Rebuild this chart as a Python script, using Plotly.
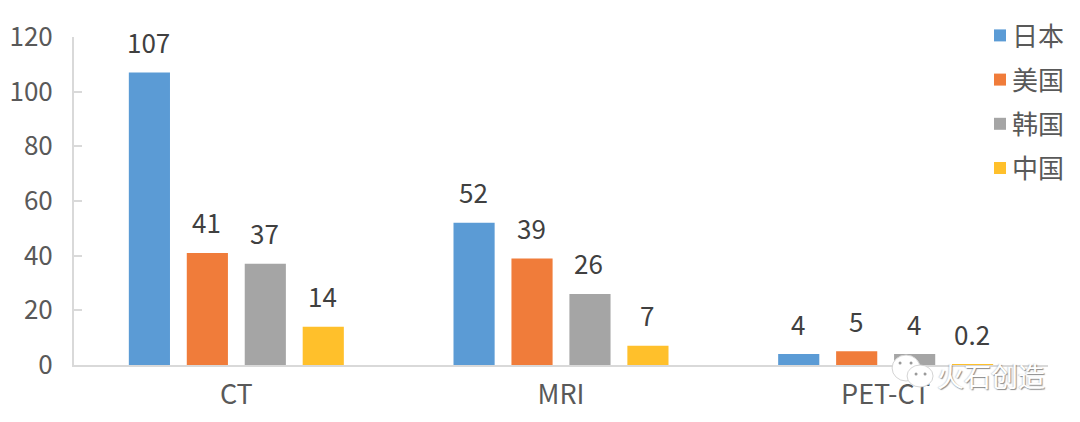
import plotly.graph_objects as go

categories = ["CT", "MRI", "PET-CT"]
series_names = ["日本", "美国", "韩国", "中国"]
japan = [107, 52, 4]
usa = [41, 39, 5]
korea = [37, 26, 4]
china = [14, 7, 0.2]
all_values = [japan, usa, korea, china]
label_text = [["107", "52", "4"], ["41", "39", "5"], ["37", "26", "4"], ["14", "7", "0.2"]]
colors = ["#5B9BD5", "#F07C3A", "#A5A5A5", "#FFC02B"]
y_ticks = [0, 20, 40, 60, 80, 100, 120]

FONT = "Noto Sans CJK SC"
W, H = 1080, 422
L, R, T, B = 73.5, 32, 37, 57
BARGAP = 0.286


def px(x):
    return (x - L) / (W - L - R)


def py(y):
    return (H - B - y) / (H - T - B)


fig = go.Figure()
for name, vals, c in zip(series_names, all_values, colors):
    fig.add_trace(go.Bar(name=name, x=categories, y=vals, marker=dict(color=c, line=dict(width=0)),
                         legendgroup=name))

annotations = []
band = (1 - BARGAP) / 4
for i, vals in enumerate(all_values):
    for j, v in enumerate(vals):
        annotations.append(dict(x=j + (i - 1.5) * band, y=v, xref="x", yref="y", text=label_text[i][j],
                                showarrow=False, xanchor="center", yanchor="middle", yshift=31, xshift=-1,
                                font=dict(family=FONT, size=26, color="#404040")))

# watermark
wm_shadow = "1px 1px 1px rgba(90,90,90,0.7), -1px 0 1px rgba(120,120,120,0.3)"
annotations.append(dict(x=px(991), y=py(375), xref="paper", yref="paper", text="火石创造", showarrow=False,
                        xanchor="center", yanchor="middle",
                        font=dict(family=FONT, size=27, color="#ffffff", shadow=wm_shadow)))

shapes = []
for (cx, cy, rx, ry) in [(906, 368, 14, 13), (920, 376, 13, 11)]:
    shapes.append(dict(type="circle", xref="paper", yref="paper",
                       x0=px(cx - rx), x1=px(cx + rx), y0=py(cy + ry), y1=py(cy - ry),
                       fillcolor="#ffffff", line=dict(color="#d4d4d4", width=1), layer="above"))
for (cx, cy) in [(900, 363), (911, 363), (916, 374), (925, 374)]:
    shapes.append(dict(type="circle", xref="paper", yref="paper",
                       x0=px(cx - 1.5), x1=px(cx + 1.5), y0=py(cy + 1.5), y1=py(cy - 1.5),
                       fillcolor="#9a9a9a", line=dict(width=0), layer="above"))

fig.update_layout(
    width=W, height=H, barmode="group", bargap=BARGAP, bargroupgap=0.29,
    margin=dict(l=L, r=R, t=T, b=B, autoexpand=False),
    paper_bgcolor="white", plot_bgcolor="white",
    font=dict(family=FONT, color="#595959"),
    annotations=annotations, shapes=shapes,
    xaxis=dict(type="category", showgrid=False, showline=True, linecolor="#D9D9D9", linewidth=2,
               ticks="", ticklabelstandoff=5, tickfont=dict(family=FONT, size=27, color="#595959"), zeroline=False),
    yaxis=dict(range=[0, 120], tickvals=y_ticks, showgrid=False, showline=True, linecolor="#D9D9D9", linewidth=2,
               ticks="inside", ticklen=8, tickcolor="#D9D9D9", tickwidth=2, zeroline=False,
               ticklabelstandoff=14, tickfont=dict(family=FONT, size=26, color="#595959")),
    legend=dict(x=px(1070), xanchor="right", y=py(12), yanchor="top", xref="paper", yref="paper",
                bgcolor="rgba(0,0,0,0)", font=dict(family=FONT, size=26, color="#595959"),
                tracegroupgap=7.4, traceorder="grouped", itemclick=False, itemdoubleclick=False),
)

post = ("document.body.style.margin='0';document.body.style.overflow='hidden';"
        "document.querySelectorAll('.legendsymbols').forEach(function(e){e.setAttribute('transform','translate(8,0)');});")
fig.write_html("out.html", post_script=post, config={"displayModeBar": False})
